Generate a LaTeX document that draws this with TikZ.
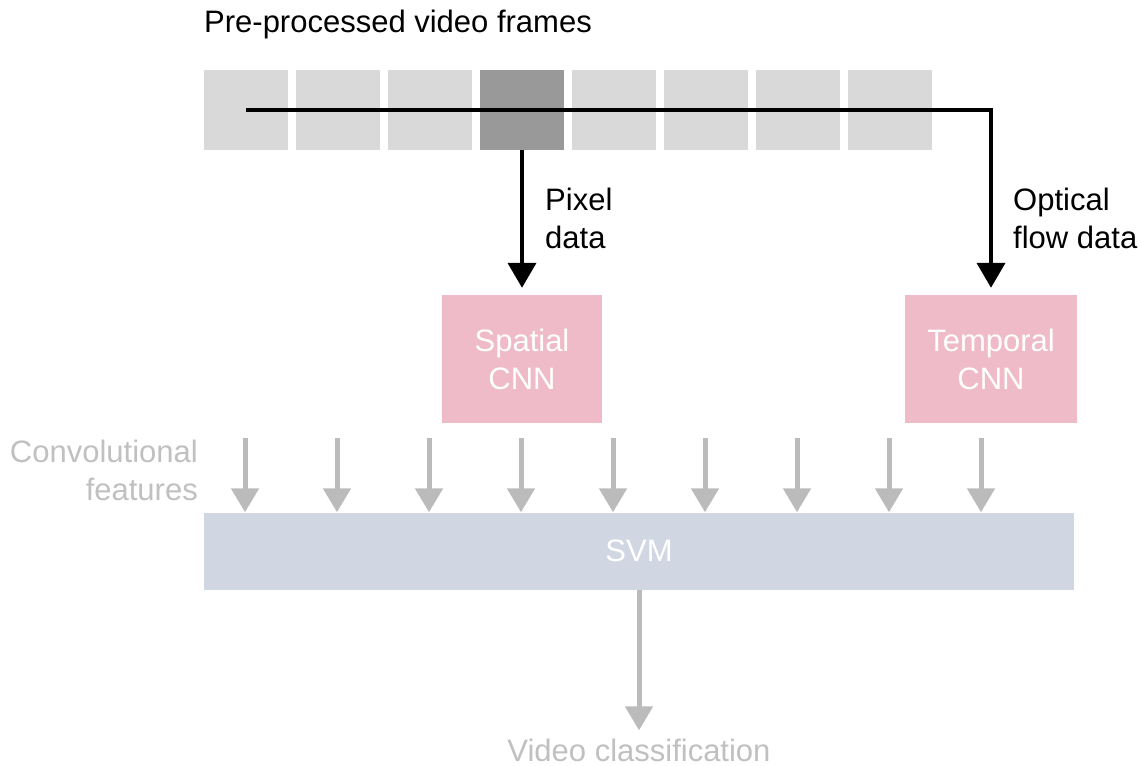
\documentclass[tikz,border=0pt]{standalone}
\usepackage{fontspec}
\setmainfont{Liberation Sans}
\usetikzlibrary{arrows.meta,positioning}

\definecolor{framegray}{HTML}{D9D9D9}
\definecolor{framedark}{HTML}{999999}
\definecolor{cnnpink}{HTML}{EFBBC9}
\definecolor{svmblue}{HTML}{D0D7E3}
\definecolor{featgray}{HTML}{BBBBBB}
\definecolor{textgray}{HTML}{C0C0C0}
\newcommand{\dgfont}{\fontsize{31}{38}\selectfont}

\begin{document}
\begin{tikzpicture}[x=1pt, y=-1pt, font=\dgfont,
    frame/.style = {rectangle, minimum width=84pt, minimum height=80pt, inner sep=0pt},
    cnn/.style = {rectangle, minimum height=128pt, inner sep=0pt, align=center, text=white, fill=cnnpink},
    svmbox/.style = {rectangle, minimum width=870pt, minimum height=77pt, inner sep=0pt, text=white, fill=svmblue},
    note/.style = {inner sep=0pt},
    dataarrow/.style = {line width=4pt, -{Triangle[width=28pt,length=25pt]}, shorten >=7pt},
    featarrow/.style = {line width=5pt, draw=featgray, -{Triangle[width=27pt,length=24pt]}}
]
\useasboundingbox (0,0) rectangle (1141,766);

% Frames
\node (title) [note, anchor=base west] at (204,32) {Pre-processed video frames};
\foreach \i/\shade in {1/framegray,2/framegray,3/framegray,4/framedark,5/framegray,6/framegray,7/framegray,8/framegray}
    \node (f\i) [frame, fill=\shade] at ({246+92*(\i-1)}, 110) {};

% Networks
\node (spatial) [cnn, minimum width=160pt] at (522,359) {Spatial\\CNN};
\node (temporal) [cnn, minimum width=172pt] at (991,359) {Temporal\\CNN};
\node (svm) [svmbox] at (639,551) {SVM};
\node (result) [note, anchor=base, text=textgray] at (639,761) {Video classification};

% Labels
\node (pixel) [note, anchor=north west, align=left] at (545,188) {Pixel\\data};
\node (flow) [note, anchor=north west, align=left] at (1013,188) {Optical\\flow data};
\node (conv) [note, anchor=north east, align=right, text=textgray] at (198,440) {Convolutional\\features};

% Edges
\draw [dataarrow] (f4.south) -- (spatial.north);
\draw [dataarrow] (f1.center) -| (temporal.north);
\foreach \i in {0,...,8} {
    \coordinate (feat\i) at ({245+92*\i}, 438);
    \draw [featarrow] (feat\i) -- (feat\i |- svm.north);
}
\draw [featarrow, shorten >=8pt] (svm.south) -- (result.north);

\end{tikzpicture}
\end{document}
